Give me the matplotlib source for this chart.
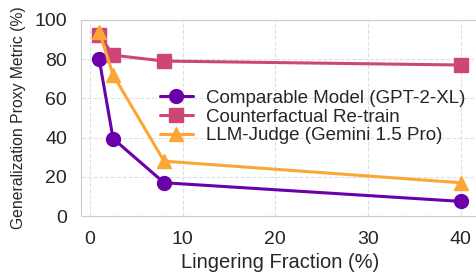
import matplotlib
matplotlib.use("Agg")
import matplotlib.pyplot as plt
import seaborn as sns

sns.set_style("whitegrid", {"grid.linestyle": "--"})
plt.rcParams['font.family'] = ['Liberation Sans', 'DejaVu Sans']

x = [1, 2.5, 8, 40]
comparable = [80, 39.5, 17, 7.5]
counterfactual = [92.5, 82, 79, 77]
judge = [94, 72, 28, 17]
labels = ["Comparable Model (GPT-2-XL)", "Counterfactual Re-train", "LLM-Judge (Gemini 1.5 Pro)"]
colors = ["#6a00a8", "#cc4778", "#fca636"]

fig = plt.figure(figsize=(4.77, 2.76), dpi=100)
ax = fig.add_axes([0.170, 0.217, 0.834, 0.711])
ax.plot(x, comparable, marker='o', color=colors[0], lw=2.2, ms=10, label=labels[0])
ax.plot(x, counterfactual, marker='s', color=colors[1], lw=2.2, ms=10, label=labels[1])
ax.plot(x, judge, marker='^', color=colors[2], lw=2.2, ms=10, label=labels[2])
ax.set_ylim(0, 100)
ax.set_xticks([0, 10, 20, 30, 40])
ax.set_yticks([0, 20, 40, 60, 80, 100])
ax.tick_params(axis='y', labelsize=14, pad=6.5)
ax.tick_params(axis='x', labelsize=14, pad=7)
ax.set_xlabel("Lingering Fraction (%)", fontsize=14.5, labelpad=4)
ax.set_ylabel("Generalization Proxy Metric (%)", fontsize=11.3, labelpad=6)
for s in ax.spines.values():
    s.set_color("#cccccc")
ax.grid(True, linestyle='--', color='#e0e0e0')
ax.legend(loc='center left', bbox_to_anchor=(160 / 477, 1 - 117 / 276),
          bbox_transform=fig.transFigure, frameon=False, fontsize=13.5,
          handlelength=1.75, labelspacing=0.08, borderpad=0, borderaxespad=0,
          handletextpad=0.7)
fig.savefig("out.png", dpi=100)
